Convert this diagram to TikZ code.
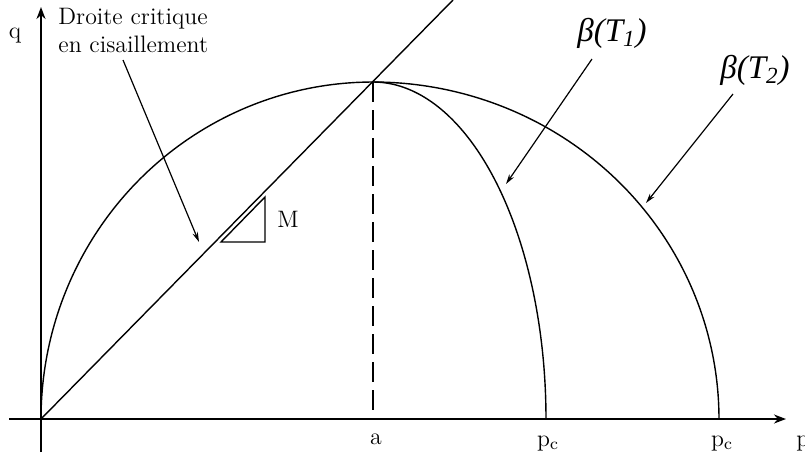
\documentclass[tikz,border=0pt]{standalone}
\usepackage{fontspec}
\newfontfamily\timesf{Liberation Serif}
\usetikzlibrary{arrows.meta}
\begin{document}
\begin{tikzpicture}[x=0.5pt,y=-0.5pt,
 axis/.style={line width=1.1pt,-{Stealth[length=6pt,width=4.5pt]}},
 curve/.style={line width=0.7pt},
 pointer/.style={line width=0.6pt,-{Stealth[length=5pt,width=2.8pt]}},
 lbl/.style={inner sep=0pt,font=\fontsize{11.9}{14}\selectfont},
 betalbl/.style={inner sep=0pt,font=\timesf\itshape\fontsize{16.5}{19}\selectfont}]
\useasboundingbox (0,0) rectangle (805,452);
% axes
\coordinate (xs) at (9,419);
\coordinate (xe) at (786,419);
\coordinate (ys) at (41,452);
\coordinate (ye) at (41,7);
\draw[axis] (xs) -- (xe);
\draw[axis] (ys) -- (ye);
\coordinate (O) at (41,419);
\coordinate (A) at (373,82);
\coordinate (Aa) at (373,419);
\coordinate (Ltop) at (453,0);
% critical line
\draw[curve] (O) -- (Ltop);
% dashed line
\draw[curve,line width=0.8pt,dash pattern=on 10pt off 4pt] (A) -- (Aa);
% curves
\draw[curve] plot[domain=180:90,samples=90] ({373+332*cos(\x)},{419-337*sin(\x)});
\draw[curve] plot[domain=90:0,samples=90] ({373+346*cos(\x)},{419-337*sin(\x)});
\draw[curve] plot[domain=90:0,samples=90] ({373+173*cos(\x)},{419-337*sin(\x)});
% slope triangle
\coordinate (t1) at (221,242);
\coordinate (t2) at (265,242);
\coordinate (t3) at (265,197);
\draw[line width=0.7pt] (t1) -- (t2) -- (t3) -- cycle;
\node[lbl] (M) at (288,219) {M};
% labels
\node[lbl,anchor=base] (q) at (15,38) {q};
\node[lbl,anchor=base] (a) at (376,444) {a};
\node[lbl,anchor=base] (pc1) at (548,446) {p$_{\mathrm{c}}$};
\node[lbl,anchor=base] (pc2) at (722,446) {p$_{\mathrm{c}}$};
\node[lbl,anchor=base west] (p) at (796,446) {p};
\node[lbl,align=left,anchor=north west] (crit) at (58,8) {Droite critique\\en cisaillement};
\node[betalbl] (b1) at (612,33) {β(T\textsubscript{1})};
\node[betalbl] (b2) at (755,70) {β(T\textsubscript{2})};
% pointers
\coordinate (cs) at (123,60);
\coordinate (ce) at (199,242);
\coordinate (b1s) at (592,59);
\coordinate (b1e) at (506,184);
\coordinate (b2s) at (733,94);
\coordinate (b2e) at (646,203);
\draw[pointer] (cs) -- (ce);
\draw[pointer] (b1s) -- (b1e);
\draw[pointer] (b2s) -- (b2e);
\end{tikzpicture}
\end{document}
